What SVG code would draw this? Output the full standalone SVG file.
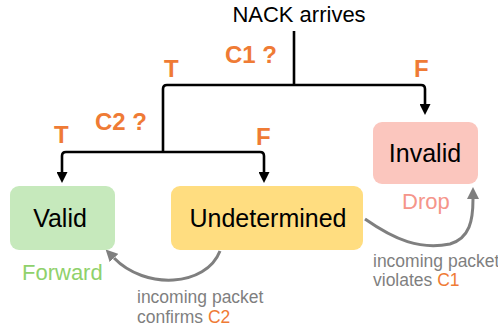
<svg xmlns="http://www.w3.org/2000/svg" width="498" height="335" viewBox="0 0 498 335">
<defs>
<marker id="ab" viewBox="0 0 10 10" refX="0" refY="5" markerWidth="11" markerHeight="11" markerUnits="userSpaceOnUse" orient="auto"><path d="M0,0 L10,5 L0,10 z" fill="#000"/></marker>
<marker id="ag" viewBox="0 0 10 10" refX="0" refY="5" markerWidth="12" markerHeight="12" markerUnits="userSpaceOnUse" orient="auto"><path d="M0,0 L10,5 L0,10 z" fill="#7f7f7f"/></marker>
</defs>
<style>
text{font-family:"Liberation Sans",Arial,sans-serif}
.ln{fill:none;stroke:#000;stroke-width:2.6;stroke-linejoin:round}
.gc{fill:none;stroke:#7f7f7f;stroke-width:3}
.lab{font-weight:bold;fill:#ef7b35;font-size:24px}
.nt{font-size:25px;fill:#000;text-anchor:middle}
.nb{font-size:17.5px;fill:#7f7f7f}
.o{fill:#ef7b35}
</style>
<rect width="498" height="335" fill="#fff"/>
<text x="299" y="22" font-size="22" text-anchor="middle" fill="#000">NACK arrives</text>
<g id="connectors">
<path class="ln" d="M294,31 V85"/>
<path class="ln" d="M163,152 V89 Q163,85 167,85 H421 Q425,85 425,89 V104" marker-end="url(#ab)"/>
<path class="ln" d="M163,152 H66 Q62,152 62,156 V172" marker-end="url(#ab)"/>
<path class="ln" d="M163,152 H260 Q264,152 264,156 V172" marker-end="url(#ab)"/>
<path class="gc" d="M220,251 C206,287 145,290 114,258" marker-end="url(#ag)"/>
<path class="gc" d="M365,219 C395,240 420,250 450,244 C470,238 473,220 473,199" marker-end="url(#ag)"/>
</g>
<text class="lab" x="225" y="63">C1 ?</text>
<text class="lab" x="164" y="77">T</text>
<text class="lab" x="414" y="77">F</text>
<text class="lab" x="95" y="130">C2 ?</text>
<text class="lab" x="54" y="143">T</text>
<text class="lab" x="256" y="145">F</text>
<g id="valid">
<rect x="10" y="186" width="105" height="64" rx="9" fill="#c6e9bc"/>
<text class="nt" x="60" y="227">Valid</text>
<text x="22" y="280" font-size="22" fill="#8fd16b">Forward</text>
</g>
<g id="undetermined">
<rect x="171" y="186" width="192" height="64" rx="9" fill="#ffdd80"/>
<text class="nt" x="268" y="227">Undetermined</text>
</g>
<g id="invalid">
<rect x="373" y="122" width="105" height="62" rx="9" fill="#fbc6be"/>
<text class="nt" x="425" y="162">Invalid</text>
<text x="402" y="209" font-size="22" fill="#f5958a">Drop</text>
</g>
<text class="nb" x="137" y="303">incoming packet</text>
<text class="nb" x="137" y="323">confirms <tspan class="o">C2</tspan></text>
<text class="nb" x="373" y="267" font-size="16.4">incoming packet</text>
<text class="nb" x="373" y="286" font-size="16.4">violates <tspan class="o">C1</tspan></text>
</svg>
